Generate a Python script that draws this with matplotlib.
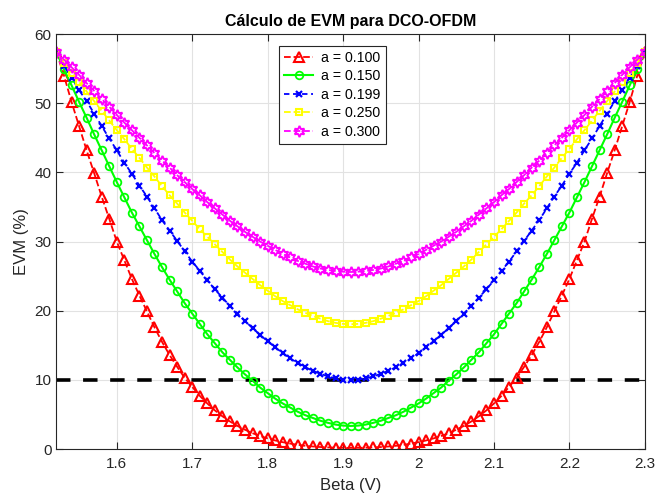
import numpy as np
import matplotlib
matplotlib.use("Agg")
import matplotlib.pyplot as plt

plt.rcParams['font.family'] = ['Liberation Sans', 'DejaVu Sans']

beta = [round(1.52 + 0.01 * i, 2) for i in range(79)]

evm_a100 = [57.4, 54.0, 50.2, 46.7, 43.2, 39.9, 36.5, 33.3, 30.0, 27.3,
            24.6, 22.2, 19.9, 17.6, 15.5, 13.6, 11.9, 10.3, 9.0, 7.7,
            6.6, 5.6, 4.75, 4.0, 3.35, 2.8, 2.3, 1.9, 1.55, 1.25,
            1.0, 0.8, 0.62, 0.48, 0.38, 0.3, 0.25, 0.21, 0.19, 0.18,
            0.19, 0.21, 0.25, 0.3, 0.38, 0.48, 0.62, 0.8, 1.0, 1.25,
            1.55, 1.9, 2.3, 2.8, 3.35, 4.0, 4.75, 5.6, 6.6, 7.7,
            9.0, 10.3, 11.9, 13.6, 15.5, 17.6, 19.9, 22.2, 24.6, 27.3,
            30.0, 33.3, 36.5, 39.9, 43.2, 46.7, 50.2, 54.0, 57.4]

evm_a150 = [57.4, 54.9, 52.6, 50.2, 47.9, 45.5, 43.2, 40.9, 38.6, 36.4,
            34.2, 32.2, 30.2, 28.2, 26.3, 24.5, 22.8, 21.1, 19.6, 18.1,
            16.6, 15.3, 14.0, 12.9, 11.8, 10.8, 9.9, 8.9, 8.1, 7.3,
            6.6, 6.0, 5.4, 4.9, 4.5, 4.1, 3.8, 3.55, 3.4, 3.35,
            3.4, 3.55, 3.8, 4.1, 4.5, 4.9, 5.4, 6.0, 6.6, 7.3,
            8.1, 8.9, 9.9, 10.8, 11.8, 12.9, 14.0, 15.3, 16.6, 18.1,
            19.6, 21.1, 22.8, 24.5, 26.3, 28.2, 30.2, 32.2, 34.2, 36.4,
            38.6, 40.9, 43.2, 45.5, 47.9, 50.2, 52.6, 54.9, 57.4]

evm_a199 = [57.4, 55.4, 53.7, 51.9, 50.3, 48.5, 46.7, 44.9, 43.2, 41.4,
            39.8, 38.1, 36.5, 34.8, 33.1, 31.6, 30.1, 28.6, 27.1, 25.8,
            24.4, 23.1, 21.9, 20.7, 19.6, 18.5, 17.5, 16.5, 15.6, 14.7,
            13.9, 13.1, 12.45, 11.85, 11.3, 10.9, 10.5, 10.25, 10.05, 10.0,
            10.05, 10.25, 10.5, 10.9, 11.3, 11.85, 12.45, 13.1, 13.9, 14.7,
            15.6, 16.5, 17.5, 18.5, 19.6, 20.7, 21.9, 23.1, 24.4, 25.8,
            27.1, 28.6, 30.1, 31.6, 33.1, 34.8, 36.5, 38.1, 39.8, 41.4,
            43.2, 44.9, 46.7, 48.5, 50.3, 51.9, 53.7, 55.4, 57.4]

evm_a250 = [57.4, 55.8, 54.4, 53.1, 51.7, 50.3, 48.9, 47.5, 46.1, 44.8,
            43.4, 42.1, 40.7, 39.4, 38.0, 36.7, 35.5, 34.2, 33.0, 31.8,
            30.7, 29.6, 28.5, 27.4, 26.4, 25.5, 24.6, 23.7, 22.9, 22.1,
            21.4, 20.8, 20.2, 19.7, 19.25, 18.85, 18.5, 18.25, 18.1, 18.05,
            18.1, 18.25, 18.5, 18.85, 19.25, 19.7, 20.2, 20.8, 21.4, 22.1,
            22.9, 23.7, 24.6, 25.5, 26.4, 27.4, 28.5, 29.6, 30.7, 31.8,
            33.0, 34.2, 35.5, 36.7, 38.0, 39.4, 40.7, 42.1, 43.4, 44.8,
            46.1, 47.5, 48.9, 50.3, 51.7, 53.1, 54.4, 55.8, 57.4]

evm_a300 = [57.4, 56.3, 55.2, 54.1, 52.9, 51.8, 50.6, 49.5, 48.3, 47.2,
            46.1, 45.0, 43.9, 42.8, 41.7, 40.7, 39.6, 38.6, 37.6, 36.7,
            35.7, 34.8, 33.9, 33.0, 32.2, 31.4, 30.7, 30.0, 29.4, 28.8,
            28.2, 27.7, 27.2, 26.8, 26.4, 26.1, 25.9, 25.75, 25.65, 25.6,
            25.65, 25.75, 25.9, 26.1, 26.4, 26.8, 27.2, 27.7, 28.2, 28.8,
            29.4, 30.0, 30.7, 31.4, 32.2, 33.0, 33.9, 34.8, 35.7, 36.7,
            37.6, 38.6, 39.6, 40.7, 41.7, 42.8, 43.9, 45.0, 46.1, 47.2,
            48.3, 49.5, 50.6, 51.8, 52.9, 54.1, 55.2, 56.3, 57.4]

labels = ['a = 0.100', 'a = 0.150', 'a = 0.199', 'a = 0.250', 'a = 0.300']
threshold = 10
xticks = [1.6, 1.7, 1.8, 1.9, 2.0, 2.1, 2.2, 2.3]
xtick_labels = ['1.6', '1.7', '1.8', '1.9', '2', '2.1', '2.2', '2.3']
yticks = [0, 10, 20, 30, 40, 50, 60]

fig = plt.figure(figsize=(6.56, 4.93), dpi=100)
ax = fig.add_axes([0.086, 0.089, 0.897, 0.842])

hexagram = (6, 1, 0)

ax.plot(beta, evm_a100, color='red', linestyle='--', linewidth=1.3, marker='^',
        markersize=6.5, markerfacecolor='none', markeredgewidth=1.5, label=labels[0])
ax.plot(beta, evm_a150, color='#00ff00', linestyle='-', linewidth=1.5, marker='o',
        markersize=5.5, markerfacecolor='none', markeredgewidth=1.3, label=labels[1])
ax.plot(beta, evm_a199, color='blue', linestyle='--', linewidth=1.3, marker='x',
        markersize=4, markeredgewidth=1.6, dashes=(3, 2), label=labels[2])
ax.plot(beta, evm_a250, color='yellow', linestyle='--', linewidth=1.3, marker='s',
        markersize=4.5, markerfacecolor='none', markeredgewidth=1.5, label=labels[3])
ax.plot(beta, evm_a300, color='magenta', linestyle='--', linewidth=1.3, marker=hexagram,
        markersize=8, markerfacecolor='none', markeredgewidth=1.4, label=labels[4])

ax.axhline(threshold, color='black', linestyle='--', linewidth=2.6, dashes=(4, 3.5), zorder=1.5)

ax.set_xlim(1.52, 2.3)
ax.set_ylim(0, 60)
ax.set_xticks(xticks)
ax.set_xticklabels(xtick_labels)
ax.set_yticks(yticks)
ax.grid(True, color='#e2e2e2', linewidth=0.8)
ax.set_axisbelow(True)
ax.tick_params(direction='in', top=True, right=True, labelsize=11, length=5, width=0.8,
               colors='#262626')
ax.tick_params(axis='x', pad=6)
for sp in ax.spines.values():
    sp.set_color('#262626')
    sp.set_linewidth(0.8)

ax.set_title('Cálculo de EVM para DCO-OFDM', fontsize=11.5, fontweight='bold', pad=6)
ax.set_xlabel('Beta (V)', fontsize=12, color='#262626', labelpad=5)
ax.set_ylabel('EVM (%)', fontsize=12, color='#262626', labelpad=4)

leg = ax.legend(loc='upper left', bbox_to_anchor=(0.379, 0.972), fontsize=10.2,
                frameon=True, fancybox=False, edgecolor='#262626', framealpha=1,
                handlelength=2.0, borderpad=0.35, labelspacing=0.32, handletextpad=0.6,
                borderaxespad=0)
leg.get_frame().set_linewidth(0.8)

fig.savefig('out.png', dpi=100)
